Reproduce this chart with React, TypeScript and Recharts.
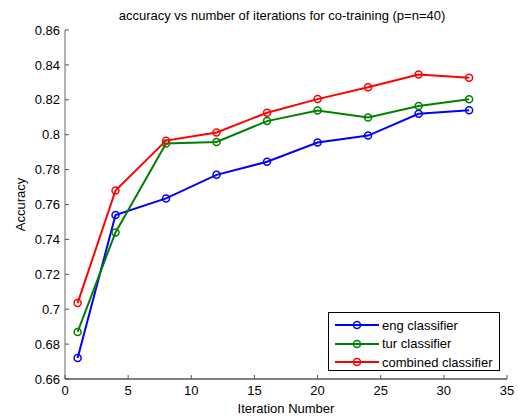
import { LineChart, Line, XAxis, YAxis } from 'recharts';

const iterations = [1, 4, 8, 12, 16, 20, 24, 28, 32];
const engAccuracy = [0.672, 0.754, 0.7635, 0.777, 0.7845, 0.7955, 0.7995, 0.812, 0.814];
const turAccuracy = [0.687, 0.744, 0.795, 0.7958, 0.8078, 0.8138, 0.8098, 0.8165, 0.8203];
const combinedAccuracy = [0.7035, 0.768, 0.7966, 0.8013, 0.8126, 0.8204, 0.8272, 0.8345, 0.8327];

const xTicks = [0, 5, 10, 15, 20, 25, 30, 35];
const yTicks = [0.66, 0.68, 0.7, 0.72, 0.74, 0.76, 0.78, 0.8, 0.82, 0.84, 0.86];

const seriesInfo = [
  { key: 'eng', name: 'eng classifier', color: '#0000ff' },
  { key: 'tur', name: 'tur classifier', color: '#008000' },
  { key: 'combined', name: 'combined classifier', color: '#ff0000' },
];

const data = iterations.map((it, i) => ({
  iter: it,
  eng: engAccuracy[i],
  tur: turAccuracy[i],
  combined: combinedAccuracy[i],
}));

const font = '"Liberation Sans", Arial, Helvetica, sans-serif';
const TICK_LEN = 4;
const tickColor = '#555';

const formatY = (v: number) => String(Number(v.toFixed(2)));

// matlab style: ticks point into the box
const BottomTick = (props: any) => {
  const { x, y, payload } = props;
  return (
    <g>
      <line x1={x} y1={y} x2={x} y2={y - TICK_LEN} stroke={tickColor} />
      <text x={x} y={y + 7} dy="0.71em" textAnchor="middle" fill="#000" fontSize={13} fontFamily={font}>
        {payload.value}
      </text>
    </g>
  );
};

const LeftTick = (props: any) => {
  const { x, y, payload } = props;
  return (
    <g>
      <line x1={x} y1={y} x2={x + TICK_LEN} y2={y} stroke={tickColor} />
      <text x={x - 5} y={y} dy="0.355em" textAnchor="end" fill="#000" fontSize={13} fontFamily={font}>
        {formatY(payload.value)}
      </text>
    </g>
  );
};

const TopTick = (props: any) => {
  const { x, y } = props;
  return <line x1={x} y1={y} x2={x} y2={y + TICK_LEN} stroke={tickColor} />;
};

const RightTick = (props: any) => {
  const { x, y } = props;
  return <line x1={x} y1={y} x2={x - TICK_LEN} y2={y} stroke={tickColor} />;
};

const App = () => {
  return (
    <div style={{ position: 'absolute', left: 0, top: 0, width: 518, height: 420, background: '#fff', fontFamily: font }}>
      <div
        style={{
          position: 'absolute',
          left: 0,
          top: 8,
          width: 564,
          textAlign: 'center',
          fontSize: 13,
          lineHeight: '16px',
          color: '#000',
        }}
      >
        accuracy vs number of iterations for co-training (p=n=40)
      </div>
      <LineChart width={518} height={420} data={data} margin={{ top: 30, right: 11, bottom: 0, left: 0 }}>
        <XAxis
          dataKey="iter"
          type="number"
          domain={[0, 35]}
          ticks={xTicks}
          interval={0}
          height={41}
          tickSize={0}
          tickMargin={0}
          tickLine={false}
          tick={BottomTick}
          stroke="#000"
          label={{ value: 'Iteration Number', position: 'insideBottom', offset: 7, style: { fill: '#000', fontSize: 13, fontFamily: font } }}
        />
        <XAxis
          xAxisId="top"
          orientation="top"
          type="number"
          domain={[0, 35]}
          ticks={xTicks}
          interval={0}
          height={0}
          tickSize={0}
          tickMargin={0}
          tickLine={false}
          tick={TopTick}
          stroke="#666"
        />
        <YAxis
          type="number"
          domain={[0.66, 0.86]}
          ticks={yTicks}
          interval={0}
          width={65}
          tickSize={0}
          tickMargin={0}
          tickLine={false}
          tick={LeftTick}
          stroke="#666"
          label={{ value: 'Accuracy', angle: -90, position: 'insideLeft', offset: 20, style: { fill: '#000', fontSize: 13, fontFamily: font, textAnchor: 'middle' } }}
        />
        <YAxis
          yAxisId="right"
          orientation="right"
          type="number"
          domain={[0.66, 0.86]}
          ticks={yTicks}
          interval={0}
          width={0}
          tickSize={0}
          tickMargin={0}
          tickLine={false}
          tick={RightTick}
          stroke="#000"
        />
        {seriesInfo.map((s) => (
          <Line
            key={s.key}
            dataKey={s.key}
            name={s.name}
            stroke={s.color}
            strokeWidth={2}
            dot={{ r: 3.5, fill: 'none', stroke: s.color, strokeWidth: 1.5 }}
            isAnimationActive={false}
          />
        ))}
      </LineChart>
      <div
        style={{
          position: 'absolute',
          left: 328,
          top: 312,
          width: 172,
          height: 59,
          border: '1px solid #000',
          background: '#fff',
          paddingTop: 3,
          boxSizing: 'border-box',
        }}
      >
        {seriesInfo.map((s) => (
          <div key={s.key} style={{ display: 'flex', alignItems: 'center', height: 18.5, fontSize: 13, color: '#000' }}>
            <svg width={52} height={12} style={{ marginLeft: 6 }}>
              <line x1={0} y1={6} x2={44} y2={6} stroke={s.color} strokeWidth={2} />
              <circle cx={22} cy={6} r={3.5} fill="none" stroke={s.color} strokeWidth={1.5} />
            </svg>
            <span style={{ marginLeft: -5 }}>{s.name}</span>
          </div>
        ))}
      </div>
    </div>
  );
};

export default App;
